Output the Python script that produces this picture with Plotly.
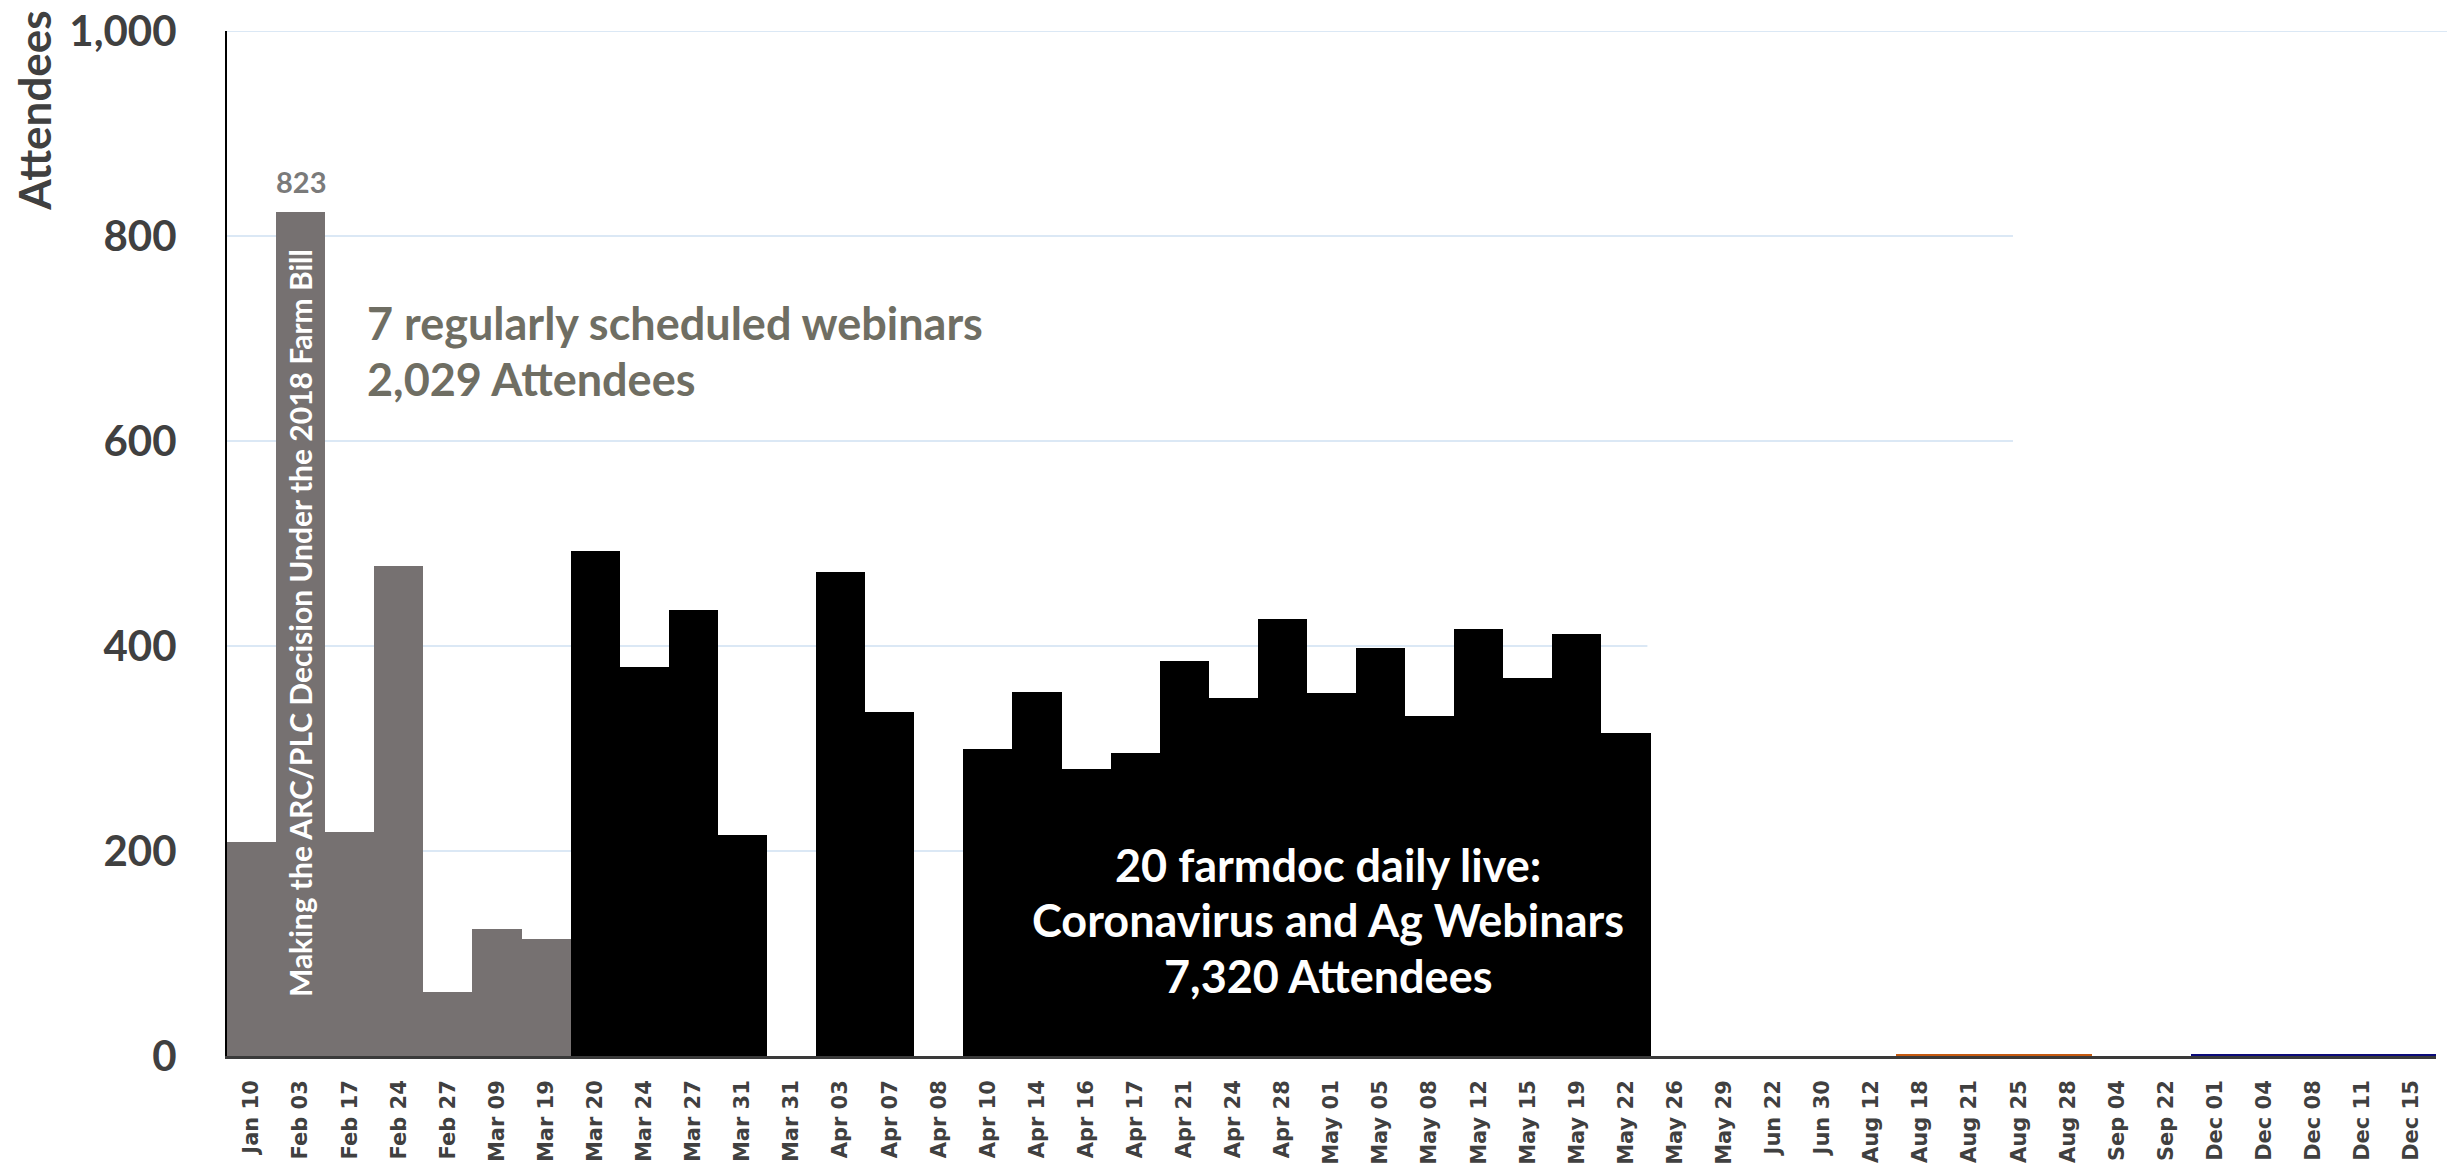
import plotly.graph_objects as go

# ---------------- data ----------------
dates = ["Jan 10", "Feb 03", "Feb 17", "Feb 24", "Feb 27", "Mar 09", "Mar 19",
         "Mar 20", "Mar 24", "Mar 27", "Mar 31", "Mar 31", "Apr 03", "Apr 07",
         "Apr 08", "Apr 10", "Apr 14", "Apr 16", "Apr 17", "Apr 21", "Apr 24",
         "Apr 28", "May 01", "May 05", "May 08", "May 12", "May 15", "May 19",
         "May 22", "May 26", "May 29", "Jun 22", "Jun 30", "Aug 12", "Aug 18",
         "Aug 21", "Aug 25", "Aug 28", "Sep 04", "Sep 22", "Dec 01", "Dec 04",
         "Dec 08", "Dec 11", "Dec 15"]

attendees = [209, 823, 219, 478, 62, 124, 114,
             493, 380, 435, 216, 0, 472, 336,
             0, 300, 355, 280, 296, 385, 349,
             426, 354, 398, 332, 417, 369, 412,
             315, 0, 0, 0, 0, 0, 2,
             2, 2, 2, 0, 0, 2, 2,
             2, 2, 2]

series = (["regular"] * 7 + ["daily"] * 22 + ["none"] * 5 + ["aug"] * 4
          + ["none"] * 2 + ["dec"] * 5)

series_colors = {"regular": "#767171", "daily": "#000000", "none": "#ffffff",
                 "aug": "#C55A11", "dec": "#0B0B7A"}

y_ticks = [0, 200, 400, 600, 800, 1000]

# ---------------- figure ----------------
W, H = 2447, 1170
ML, MR, MT, MB = 227, 11, 31, 114

fig = go.Figure()
for s in ["regular", "daily", "aug", "dec"]:
    xs = [i for i, g in enumerate(series) if g == s and attendees[i] > 0]
    ys = [attendees[i] for i in xs]
    fig.add_trace(go.Bar(
        x=xs, y=ys, width=1.0,
        marker=dict(color=series_colors[s], line=dict(width=0)),
        showlegend=False, hoverinfo="y"))

# partial gridlines (as in the original composite chart)
grid_color = "#CFE0F2"
grid_ends = {200: 0.643, 400: 0.643, 600: 0.8085, 800: 0.8085, 1000: 1.005}
for v in y_ticks[1:]:
    fig.add_shape(type="line", xref="paper", yref="y", x0=0, x1=grid_ends[v],
                  y0=v, y1=v, line=dict(color=grid_color, width=1.5),
                  layer="below")

text_font = "Lato"
ann_size = 45

annotations = [
    dict(text="Attendees", xref="paper", yref="paper",
         x=-0.0874, y=0.923, xanchor="center", yanchor="middle",
         textangle=-90, showarrow=False,
         font=dict(family=text_font, size=44, color="#404040", weight="bold")),
    dict(text="823", xref="x", yref="y", x=1, y=attendees[1],
         xanchor="center", yanchor="bottom", yshift=11, showarrow=False,
         font=dict(family=text_font, size=29, color="#7A7A7A", weight="bold")),
    dict(text="Making the ARC/PLC Decision Under the 2018 Farm Bill",
         xref="x", yref="y", x=1, y=422, xanchor="center", yanchor="middle",
         textangle=-90, showarrow=False,
         font=dict(family=text_font, size=30, color="#FFFFFF", weight="bold")),
    dict(text="7 regularly scheduled webinars", xref="paper", yref="paper",
         x=0.0625, y=0.715, xanchor="left", yanchor="middle", showarrow=False,
         font=dict(family=text_font, size=ann_size, color="#6F6E63",
                   weight="bold")),
    dict(text="2,029 Attendees", xref="paper", yref="paper",
         x=0.0625, y=0.660, xanchor="left", yanchor="middle", showarrow=False,
         font=dict(family=text_font, size=ann_size, color="#6F6E63",
                   weight="bold")),
    dict(text="20 farmdoc daily live:", xref="paper", yref="paper",
         x=0.4984, y=0.186, xanchor="center", yanchor="middle",
         showarrow=False,
         font=dict(family=text_font, size=ann_size, color="#FFFFFF",
                   weight="bold")),
    dict(text="Coronavirus and Ag Webinars", xref="paper", yref="paper",
         x=0.4984, y=0.133, xanchor="center", yanchor="middle",
         showarrow=False,
         font=dict(family=text_font, size=ann_size, color="#FFFFFF",
                   weight="bold")),
    dict(text="7,320 Attendees", xref="paper", yref="paper",
         x=0.4984, y=0.078, xanchor="center", yanchor="middle",
         showarrow=False,
         font=dict(family=text_font, size=ann_size, color="#FFFFFF",
                   weight="bold")),
]

fig.update_layout(
    width=W, height=H,
    margin=dict(l=ML, r=MR, t=MT, b=MB, autoexpand=False),
    paper_bgcolor="white", plot_bgcolor="white",
    bargap=0, barmode="overlay",
    annotations=annotations,
    xaxis=dict(
        range=[-0.5, len(dates) - 0.5],
        tickmode="array", tickvals=list(range(len(dates))), ticktext=dates,
        tickangle=-90, showgrid=False, zeroline=False,
        showline=True, linecolor="#3A3A3A", linewidth=2.5,
        ticks="", ticklabelstandoff=13,
        tickfont=dict(family="DejaVu Sans", size=21, color="#404040",
                      weight="bold"),
    ),
    yaxis=dict(
        range=[0, 1000], tickmode="array", tickvals=y_ticks,
        tickformat=",d", showgrid=False, zeroline=False,
        showline=True, linecolor="#000000", linewidth=2,
        ticks="", ticklabelstandoff=40,
        tickfont=dict(family=text_font, size=42, color="#404040",
                      weight="bold"),
    ),
)

fig.write_html(
    "out.html",
    config={"displayModeBar": False},
    post_script="document.body.style.margin='0';"
                "document.body.style.overflow='hidden';",
)
